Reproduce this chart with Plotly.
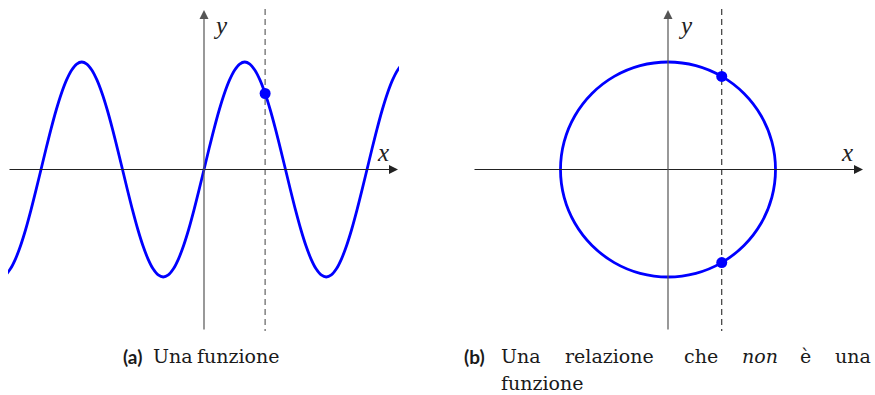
import plotly.graph_objects as go

W, H = 875, 395

# ── Data ─────────────────────────────────────────────────────────────────
# (a) a sine-like wave: x in quarter-period units, y normalised to amplitude
wave_x = [
    -5, -4.875, -4.75, -4.625, -4.5, -4.375, -4.25, -4.125,
    -4, -3.875, -3.75, -3.625, -3.5, -3.375, -3.25, -3.125,
    -3, -2.875, -2.75, -2.625, -2.5, -2.375, -2.25, -2.125,
    -2, -1.875, -1.75, -1.625, -1.5, -1.375, -1.25, -1.125,
    -1, -0.875, -0.75, -0.625, -0.5, -0.375, -0.25, -0.125,
    0, 0.125, 0.25, 0.375, 0.5, 0.625, 0.75, 0.875,
    1, 1.125, 1.25, 1.375, 1.5, 1.625, 1.75, 1.875,
    2, 2.125, 2.25, 2.375, 2.5, 2.625, 2.75, 2.875,
    3, 3.125, 3.25, 3.375, 3.5, 3.625, 3.75, 3.875,
    4, 4.125, 4.25, 4.375, 4.5, 4.625, 4.75, 4.875,
    5,
]
wave_y = [
    -1, -0.981, -0.924, -0.831, -0.707, -0.556, -0.383, -0.195,
    0, 0.195, 0.383, 0.556, 0.707, 0.831, 0.924, 0.981,
    1, 0.981, 0.924, 0.831, 0.707, 0.556, 0.383, 0.195,
    0, -0.195, -0.383, -0.556, -0.707, -0.831, -0.924, -0.981,
    -1, -0.981, -0.924, -0.831, -0.707, -0.556, -0.383, -0.195,
    0, 0.195, 0.383, 0.556, 0.707, 0.831, 0.924, 0.981,
    1, 0.981, 0.924, 0.831, 0.707, 0.556, 0.383, 0.195,
    0, -0.195, -0.383, -0.556, -0.707, -0.831, -0.924, -0.981,
    -1, -0.981, -0.924, -0.831, -0.707, -0.556, -0.383, -0.195,
    0, 0.195, 0.383, 0.556, 0.707, 0.831, 0.924, 0.981,
    1,
]
wave_cut_x = 1.5
wave_dot = ([1.5], [0.707])

# (b) a unit circle, sampled every 15 degrees
circle_x = [1, 0.966, 0.866, 0.707, 0.5, 0.259, 0, -0.259, -0.5, -0.707, -0.866, -0.966,
            -1, -0.966, -0.866, -0.707, -0.5, -0.259, 0, 0.259, 0.5, 0.707, 0.866, 0.966, 1]
circle_y = [0, 0.259, 0.5, 0.707, 0.866, 0.966, 1, 0.966, 0.866, 0.707, 0.5, 0.259,
            0, -0.259, -0.5, -0.707, -0.866, -0.966, -1, -0.966, -0.866, -0.707, -0.5, -0.259, 0]
circle_cut_x = 0.5
circle_dots = ([0.5, 0.5], [0.866, -0.866])

BLUE = "#0000FF"

# pixel geometry of the two panels (origin and scale)
Y0, YS = 169.5, 107.5           # shared vertical origin / px per unit
L_X0, L_XS = 204, 40.75         # left panel
R_X0, R_XS = 668, 107.5         # right panel
L_LEFT, L_RIGHT = 8, 399        # left panel's visible x span (px)


def ly(p):
    return (Y0 - p) / YS


fig = go.Figure()

fig.add_trace(go.Scatter(x=wave_x, y=wave_y, mode="lines", xaxis="x", yaxis="y",
                         line=dict(color=BLUE, width=2.8, shape="spline"),
                         hoverinfo="skip"))
fig.add_trace(go.Scatter(x=wave_dot[0], y=wave_dot[1], mode="markers", xaxis="x", yaxis="y",
                         marker=dict(color=BLUE, size=11)))

fig.add_trace(go.Scatter(x=circle_x, y=circle_y, mode="lines", xaxis="x2", yaxis="y2",
                         line=dict(color=BLUE, width=2.8, shape="spline"), hoverinfo="skip"))
fig.add_trace(go.Scatter(x=circle_dots[0], y=circle_dots[1], mode="markers", xaxis="x2", yaxis="y2",
                         marker=dict(color=BLUE, size=11)))

# ── dashed verticals ────────────────────────────────────────────────────
fig.add_shape(type="line", xref="x", yref="y", x0=wave_cut_x, x1=wave_cut_x,
              y0=ly(9), y1=ly(331), line=dict(color="#777777", width=1.4, dash="6px,4px"),
              layer="below")
fig.add_shape(type="line", xref="x2", yref="y2", x0=circle_cut_x, x1=circle_cut_x,
              y0=ly(9), y1=ly(331), line=dict(color="#111111", width=1, dash="6px,4px"),
              layer="below")

# ── axes with arrows ────────────────────────────────────────────────────
def arrow(xref, yref, x, y, ax, ay, color):
    fig.add_annotation(xref=xref, yref=yref, axref=xref, ayref=yref,
                       x=x, y=y, ax=ax, ay=ay, text="", showarrow=True,
                       arrowhead=2, arrowsize=1.5, arrowwidth=1.2, arrowcolor=color)


arrow("x", "y", (398 - L_X0) / L_XS, 0, (L_LEFT - L_X0) / L_XS, 0, "#222222")
arrow("x", "y", 0, ly(10), 0, ly(331), "#555555")
arrow("x2", "y2", (863 - R_X0) / R_XS, 0, (473 - R_X0) / R_XS, 0, "#222222")
arrow("x2", "y2", 0, ly(10), 0, ly(331), "#555555")

# axis letters
MATH = dict(family="Liberation Serif", size=25, color="#222222")
for label, px, py in [("y", 220, 25), ("x", 383, 152), ("y", 685, 25), ("x", 847, 152)]:
    fig.add_annotation(xref="paper", yref="paper", x=px / W, y=1 - py / H,
                       text=f"<i>{label}</i>", showarrow=False, font=MATH,
                       xanchor="center", yanchor="middle")

# ── captions ────────────────────────────────────────────────────────────
BODY = dict(family="DejaVu Serif", size=19, color="#1a1a1a")
BOLD = dict(family="Lato", size=19, color="#1a1a1a")
captions = [
    ("<b>(a)</b>", 121, 356, BOLD), ("Una", 151, 356, BODY), ("funzione", 195, 356, BODY),
    ("<b>(b)</b>", 462, 356, BOLD), ("Una", 499, 356, BODY), ("relazione", 563, 356, BODY),
    ("che", 682, 356, BODY), ("<i>non</i>", 740, 356, BODY), ("è", 798, 356, BODY),
    ("una", 833, 356, BODY), ("funzione", 499, 383, BODY),
]
for text, px, py, font in captions:
    fig.add_annotation(xref="paper", yref="paper", x=px / W, y=1 - py / H, text=text,
                       showarrow=False, font=font, xanchor="left", yanchor="middle")

hidden = dict(visible=False, showgrid=False, zeroline=False, fixedrange=True)
ydom = [1 - 340 / H, 1]
yrng = [ly(340), ly(0)]
fig.update_layout(
    width=W, height=H,
    margin=dict(l=0, r=0, t=0, b=0),
    paper_bgcolor="white", plot_bgcolor="white",
    showlegend=False,
    xaxis=dict(hidden, domain=[L_LEFT / W, L_RIGHT / W],
               range=[(L_LEFT - L_X0) / L_XS, (L_RIGHT - L_X0) / L_XS]),
    yaxis=dict(hidden, domain=ydom, range=yrng, anchor="x"),
    xaxis2=dict(hidden, domain=[460 / W, 1], range=[(460 - R_X0) / R_XS, (875 - R_X0) / R_XS],
                anchor="y2"),
    yaxis2=dict(hidden, domain=ydom, range=yrng, anchor="x2"),
)

fig.write_html("out.html", config={"displayModeBar": False},
               post_script="document.body.style.margin='0';")
